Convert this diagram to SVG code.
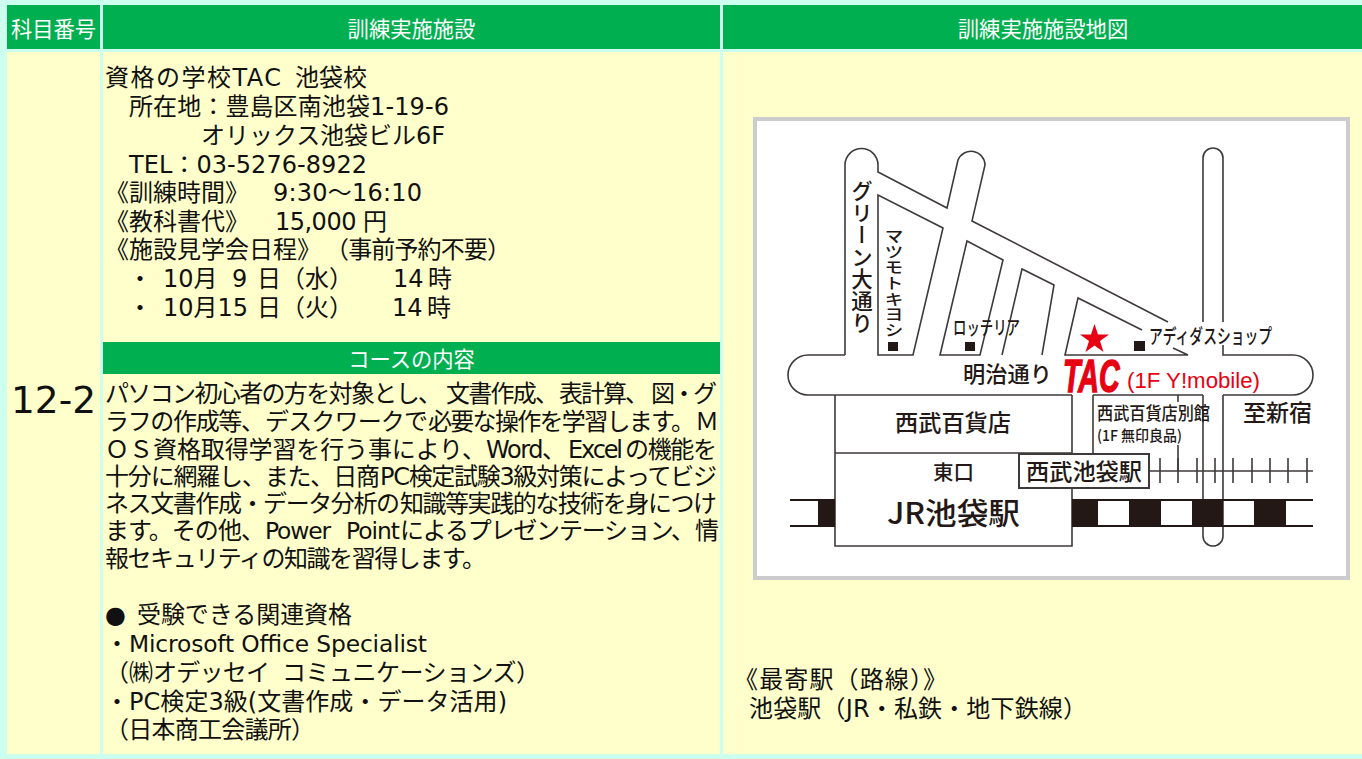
<svg xmlns="http://www.w3.org/2000/svg" width="1362" height="759" viewBox="0 0 1362 759">
<style>
.t{font-family:"DejaVu Sans","Noto Sans CJK JP",sans-serif;font-size:24px;fill:#111}
.l{font-family:"DejaVu Sans",sans-serif;font-size:23.4px;fill:#111}
.h{font-family:"DejaVu Sans","Noto Sans CJK JP",sans-serif;font-size:21.3px;fill:#fff;text-anchor:middle}
.m{font-family:"Noto Sans CJK JP","Liberation Sans",sans-serif;fill:#231815;font-weight:500}
.r{fill:none;stroke:#3e3a39;stroke-width:1.6}
.g{fill:#00b050}.b{fill:#ffffcc}
.k{fill:#231815}
</style>
<rect width="1362" height="759" fill="#ccffee"/>
<g id="table">
<rect class="g" x="7" y="5" width="93" height="44"/>
<rect class="g" x="103" y="5" width="617" height="44"/>
<rect class="g" x="723" y="5" width="639" height="44"/>
<rect class="b" x="7" y="52" width="93" height="702"/>
<rect class="b" x="103" y="52" width="617" height="702"/>
<rect class="b" x="723" y="52" width="639" height="702"/>
<rect class="g" x="103" y="342" width="617" height="32"/>
<text class="h" x="53.500" y="37">科目番号</text>
<text class="h" x="411.500" y="37">訓練実施施設</text>
<text class="h" x="1043" y="37">訓練実施施設地図</text>
<text class="h" x="411.500" y="367">コースの内容</text>
<text class="l" x="11" y="413" style="font-size:37.5px">12-2</text>
</g>
<g id="facility-text">
<text class="t" x="105" y="86" textLength="176">資格の学校TAC</text>
<text class="t" x="295" y="86">池袋校</text>
<text class="t" x="129" y="115" textLength="320">所在地：豊島区南池袋1-19-6</text>
<text class="t" x="201" y="144" textLength="244">オリックス池袋ビル6F</text>
<text class="t" x="129" y="173" textLength="238">TEL：03-5276-8922</text>
<text class="t" x="105" y="201">《訓練時間》</text>
<text class="t" x="273" y="201" textLength="149">9:30～16:10</text>
<text class="t" x="105" y="230">《教科書代》</text>
<text class="t" x="275" y="230" textLength="112">15,000 円</text>
<text class="t" x="105" y="258">《施設見学会日程》</text>
<text class="t" x="325" y="258" textLength="186">（事前予約不要）</text>
<text class="t" x="128" y="287">・<tspan x="163">10月</tspan><tspan x="232">9</tspan><tspan x="257">日</tspan><tspan x="281">（水）</tspan><tspan x="393">14</tspan><tspan x="428">時</tspan></text>
<text class="t" x="128" y="316">・<tspan x="163">10月15</tspan><tspan x="257">日</tspan><tspan x="281">（火）</tspan><tspan x="392">14</tspan><tspan x="427">時</tspan></text>
</g>
<g id="course-text">
<text class="t" x="105" y="402" textLength="337">パソコン初心者の方を対象とし、</text>
<text class="t" x="446" y="402" textLength="113">文書作成、</text>
<text class="t" x="559" y="402" textLength="90">表計算、</text>
<text class="t" x="651" y="402" textLength="66">図・グ</text>
<text class="t" x="105" y="430" textLength="160">ラフの作成等、</text>
<text class="t" x="265" y="430" textLength="163">デスクワークで</text>
<text class="t" x="428" y="430" textLength="267">必要な操作を学習します。</text>
<text class="t" x="695" y="430">Ｍ</text>
<text class="t" x="105" y="458">Ｏ</text>
<text class="t" x="129" y="458">Ｓ</text>
<text class="t" x="153" y="458" textLength="333">資格取得学習を行う事により、</text>
<text class="t" x="486" y="458" textLength="80">Word、</text>
<text class="t" x="568" y="458" textLength="55">Excel</text>
<text class="t" x="625" y="458" textLength="92">の機能を</text>
<text class="t" x="105" y="485" textLength="275">十分に網羅し、また、日商</text>
<text class="t" x="380" y="485" textLength="337">PC検定試験3級対策によってビジ</text>
<text class="t" x="105" y="512" textLength="295">ネス文書作成・データ分析の</text>
<text class="t" x="400" y="512" textLength="317">知識等実践的な技術を身につけ</text>
<text class="t" x="105" y="539" textLength="160">ます。その他、</text>
<text class="l" x="265" y="539" textLength="66">Power</text>
<text class="l" x="346" y="539" textLength="54">Point</text>
<text class="t" x="400" y="539" textLength="295">によるプレゼンテーション、</text>
<text class="t" x="695" y="539">情</text>
<text class="t" x="105" y="567" textLength="381">報セキュリティの知識を習得します。</text>
<text class="t" x="105" y="623">●</text>
<text class="t" x="137" y="623" textLength="215">受験できる関連資格</text>
<text class="t" x="105" y="652">・</text>
<text class="l" x="129" y="652" textLength="298">Microsoft Office Specialist</text>
<text class="t" x="105" y="681">（㈱</text>
<text class="t" x="153" y="681" textLength="117">オデッセイ</text>
<text class="t" x="282" y="681" textLength="258">コミュニケーションズ）</text>
<text class="t" x="105" y="710">・</text>
<text class="t" x="129" y="710" textLength="378">PC検定3級(文書作成・データ活用)</text>
<text class="t" x="105" y="738" textLength="210">（日本商工会議所）</text>
</g>
<g id="station-text">
<text class="t" x="734" y="688" textLength="213">《最寄駅（路線）》</text>
<text class="t" x="749" y="717" textLength="338">池袋駅（JR・私鉄・地下鉄線）</text>
</g>
<g id="map">
<rect x="755" y="119" width="593" height="459" fill="#fff" stroke="#cccccc" stroke-width="4"/>
<g id="connectors">
<path class="r" d="M845 355V165A16.500 16.500 0 0 1 878 165V172L947 208L958 160A14 14 0 0 1 985 165L972 221L1168 322M1173 348L1188 355H1065L1078 298L1142 330"/>
<path class="r" d="M845 355H808A20 20 0 0 0 808 395H1072M1093 395H1203M1223 395H1293A20 20 0 0 0 1293 355H1223V345M1223 322V158A10 10 0 0 0 1203 158V322"/>
<path class="r" d="M878 355V195L943 228L913 355ZM940 355L967 241L1003 260L980 355ZM1002 355L1022 269L1054 285L1042 355"/>
<path class="r" d="M835 395V546H1072V395M835 453H1072M1093 395V453M1178 395V402M1178 445V471M1203 395V536A10 10 0 0 0 1223 536V395"/>
<rect x="1019" y="454" width="130" height="34" fill="#fff" stroke="#3e3a39" stroke-width="2"/>
<path class="r" d="M1149 471H1313M1160 458V483M1178 458V483M1197 458V483M1215 458V483M1233 458V483M1252 458V483M1270 458V483M1288 458V483M1307 458V483"/>
<path class="k" d="M818 500H835V526H818ZM1072 500H1098V526H1072ZM1129 500H1161V526H1129ZM1192 500H1223V526H1192ZM1254 500H1286V526H1254Z"/>
<path d="M790 500H835M790 526H835M1072 500H1313M1072 526H1313" fill="none" stroke="#231815" stroke-width="2"/>
</g>
<path class="k" d="M888 342h10v9h-10zM965 342h10v9h-10zM1134 341h11v10h-11z"/>
<polygon points="1094.500,324 1098,334.500 1109,334.500 1100,341 1103.500,352 1094.500,345.500 1085.500,352 1089,341 1080,334.500 1091,334.500" fill="#e60012"/>
<text class="m" x="862" y="180" style="font-size:21.500px;writing-mode:vertical-rl" textLength="154">グリーン大通り</text>
<text class="m" x="894" y="228" style="font-size:19px;writing-mode:vertical-rl" textLength="110" lengthAdjust="spacingAndGlyphs">マツモトキヨシ</text>
<text class="m" x="953" y="335" style="font-size:19px" textLength="67" lengthAdjust="spacingAndGlyphs">ロッテリア</text>
<text class="m" x="1149" y="344" style="font-size:20px" textLength="123" lengthAdjust="spacingAndGlyphs">アディダスショップ</text>
<text class="m" x="963" y="382" style="font-size:22px" textLength="89" lengthAdjust="spacingAndGlyphs">明治通り</text>
<text transform="translate(1063 392) scale(.62 1)" style="font-family:'Liberation Sans',sans-serif;font-weight:bold;font-style:italic;font-size:46px" fill="#e60012" stroke="#e60012" stroke-width="1.5">TAC</text>
<text x="1127" y="388" style="font-family:'Liberation Sans',sans-serif;font-size:22px" fill="#e60012" textLength="133" lengthAdjust="spacingAndGlyphs">(1F Y!mobile)</text>
<text class="m" x="895" y="431" style="font-size:23px" textLength="116" lengthAdjust="spacingAndGlyphs">西武百貨店</text>
<text class="m" x="933" y="480" style="font-size:20px" textLength="41" lengthAdjust="spacingAndGlyphs">東口</text>
<text class="m" x="887" y="524" style="font-size:30px" textLength="133" lengthAdjust="spacingAndGlyphs">JR池袋駅</text>
<text class="m" x="1026" y="480" style="font-size:23px" textLength="116" lengthAdjust="spacingAndGlyphs">西武池袋駅</text>
<text class="m" x="1097" y="420" style="font-size:18px" textLength="113" lengthAdjust="spacingAndGlyphs">西武百貨店別館</text>
<text class="m" x="1097" y="441" style="font-size:15px" textLength="85" lengthAdjust="spacingAndGlyphs">(1F 無印良品)</text>
<text class="m" x="1243" y="421" style="font-size:23px" textLength="69" lengthAdjust="spacingAndGlyphs">至新宿</text>
</g>
</svg>
